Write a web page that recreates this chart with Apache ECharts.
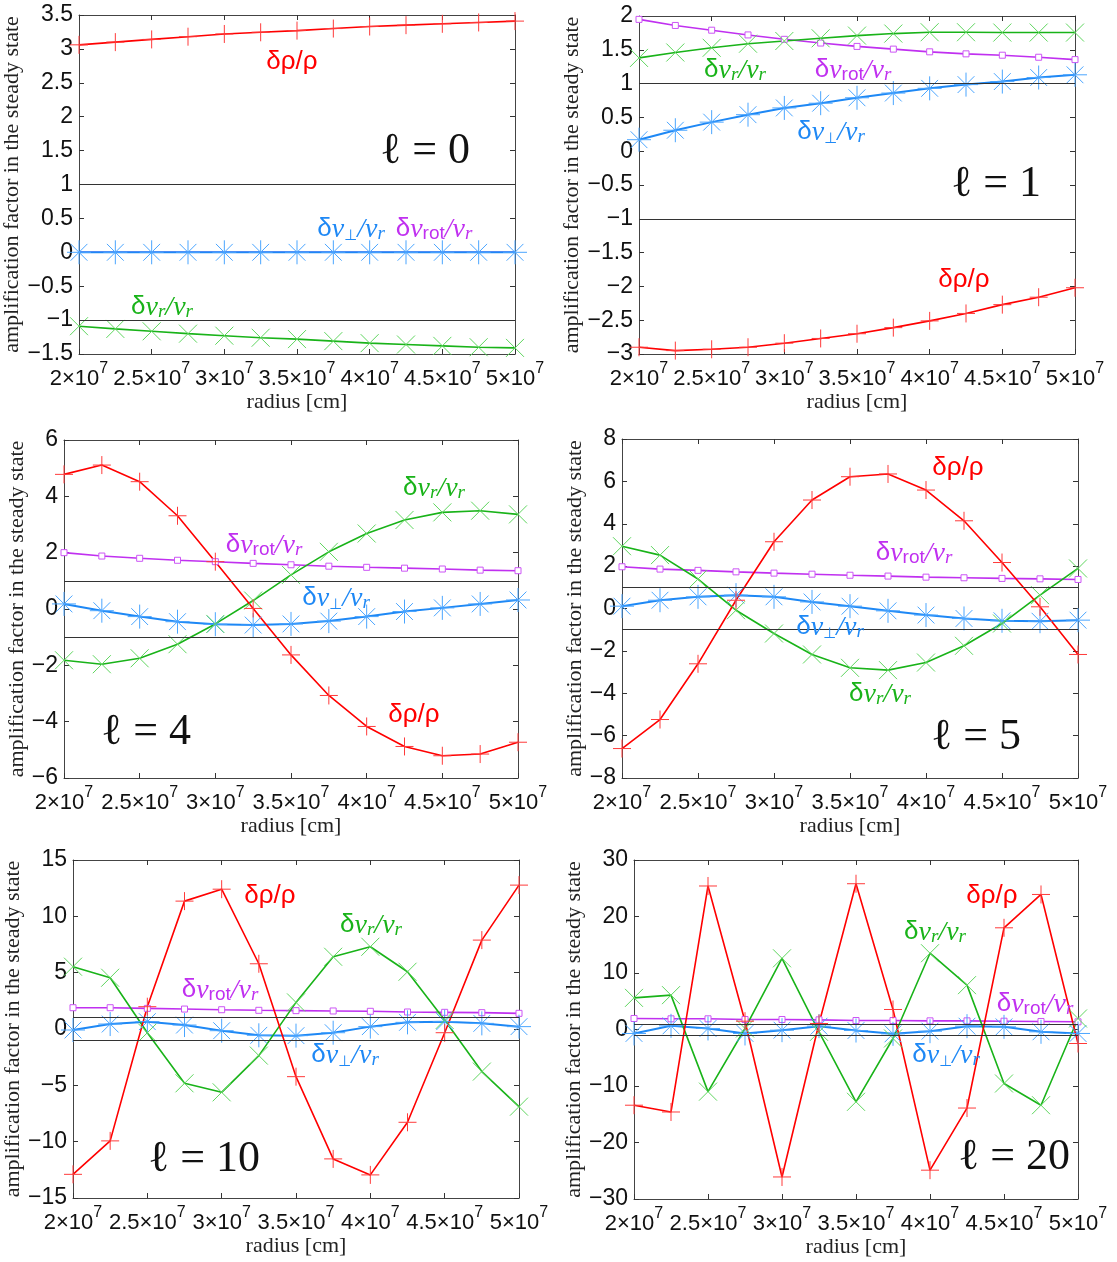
<!DOCTYPE html>
<html>
<head>
<meta charset="utf-8">
<script src="https://cdn.jsdelivr.net/npm/echarts@6/dist/echarts.min.js"></script>
<style>
  html, body { margin: 0; padding: 0; background: #fff; }
  #chart { width: 1117px; height: 1262px; }
</style>
</head>
<body>
<div id="chart"></div>
<script>
// radius [cm] of the sampled points
var radius = [2.0e7, 2.25e7, 2.5e7, 2.75e7, 3.0e7, 3.25e7, 3.5e7, 3.75e7, 4.0e7, 4.25e7, 4.5e7, 4.75e7, 5.0e7];

// l = 0
var rho0   = [3.06, 3.10, 3.14, 3.18, 3.22, 3.245, 3.27, 3.30, 3.33, 3.35, 3.37, 3.39, 3.41];
var vr0    = [-1.09, -1.13, -1.165, -1.20, -1.23, -1.26, -1.28, -1.31, -1.34, -1.36, -1.38, -1.40, -1.41];
var vperp0 = [0, 0, 0, 0, 0, 0, 0, 0, 0, 0, 0, 0, 0];
var vrot0  = [0, 0, 0, 0, 0, 0, 0, 0, 0, 0, 0, 0, 0];
// l = 1
var rho1   = [-2.90, -2.95, -2.93, -2.90, -2.84, -2.77, -2.70, -2.61, -2.51, -2.40, -2.27, -2.16, -2.02];
var vr1    = [1.38, 1.46, 1.53, 1.59, 1.63, 1.67, 1.71, 1.74, 1.76, 1.76, 1.755, 1.755, 1.755];
var vperp1 = [0.17, 0.31, 0.43, 0.54, 0.64, 0.71, 0.79, 0.86, 0.93, 0.985, 1.03, 1.09, 1.13];
var vrot1  = [1.95, 1.86, 1.79, 1.72, 1.655, 1.60, 1.55, 1.51, 1.47, 1.44, 1.42, 1.39, 1.355];
// l = 4
var rho4   = [4.78, 5.11, 4.52, 3.31, 1.68, 0.02, -1.63, -3.07, -4.17, -4.88, -5.21, -5.15, -4.73];
var vr4    = [-1.82, -1.96, -1.75, -1.25, -0.53, 0.30, 1.21, 2.03, 2.68, 3.16, 3.43, 3.49, 3.36];
var vperp4 = [0.18, -0.06, -0.27, -0.45, -0.54, -0.57, -0.53, -0.43, -0.27, -0.09, 0.04, 0.18, 0.32];
var vrot4  = [2.0, 1.88, 1.80, 1.73, 1.68, 1.62, 1.57, 1.52, 1.48, 1.45, 1.42, 1.38, 1.36];
// l = 5
var rho5   = [-6.61, -5.24, -2.61, 0.39, 3.15, 5.12, 6.22, 6.35, 5.59, 4.14, 2.17, 0.08, -2.17];
var vr5    = [2.94, 2.52, 1.39, -0.08, -1.18, -2.17, -2.80, -2.91, -2.55, -1.76, -0.71, 0.63, 1.89];
var vperp5 = [0.11, 0.39, 0.55, 0.63, 0.55, 0.31, 0.11, -0.11, -0.31, -0.47, -0.58, -0.60, -0.55];
var vrot5  = [1.97, 1.86, 1.80, 1.73, 1.67, 1.62, 1.57, 1.53, 1.48, 1.45, 1.42, 1.40, 1.37];
// l = 10
var rho10   = [-12.9, -9.93, 1.98, 11.35, 12.41, 5.79, -4.23, -11.53, -12.95, -8.28, -0.33, 7.89, 12.77];
var vr10    = [5.53, 4.55, -0.33, -4.82, -5.62, -2.36, 2.36, 6.41, 7.30, 5.08, 0.80, -3.78, -6.89];
var vperp10 = [-0.09, 0.44, 0.65, 0.35, -0.15, -0.56, -0.59, -0.33, 0.21, 0.59, 0.65, 0.50, 0.21];
var vrot10  = [1.89, 1.89, 1.83, 1.77, 1.71, 1.66, 1.63, 1.60, 1.57, 1.51, 1.48, 1.45, 1.39];
// l = 20
var rho20   = [-13.4, -14.6, 25.4, 1.47, -26.1, 1.06, 25.8, 3.54, -24.9, -13.9, 18.0, 23.9, -2.48];
var vr20    = [5.6, 6.08, -11.0, 0.18, 12.6, -0.41, -12.8, -1.59, 13.5, 7.85, -9.56, -13.4, 1.95];
var vperp20 = [-0.7, 0.65, 0.18, -0.7, -0.12, 0.59, -0.18, -0.77, -0.3, 0.59, 0.47, -0.41, -0.7];
var vrot20  = [1.95, 1.89, 1.89, 1.77, 1.77, 1.71, 1.59, 1.59, 1.53, 1.53, 1.47, 1.42, 1.36];

var ells = [0, 1, 4, 5, 10, 20];
var yRanges = [[-1.5, 3.5, 0.5], [-3, 2, 0.5], [-6, 6, 2], [-8, 8, 2], [-15, 15, 5], [-30, 30, 10]];
var refLevels = [1, -1];

var panels = [
  {rho: rho0,  vr: vr0,  vperp: vperp0,  vrot: vrot0},
  {rho: rho1,  vr: vr1,  vperp: vperp1,  vrot: vrot1},
  {rho: rho4,  vr: vr4,  vperp: vperp4,  vrot: vrot4},
  {rho: rho5,  vr: vr5,  vperp: vperp5,  vrot: vrot5},
  {rho: rho10, vr: vr10, vperp: vperp10, vrot: vrot10},
  {rho: rho20, vr: vr20, vperp: vperp20, vrot: vrot20}
];

// layout (px)
var grids = [
  {left: 79,  top: 15,  width: 436, height: 339, nameGap: 46},
  {left: 639, top: 16,  width: 436, height: 338, nameGap: 49},
  {left: 64,  top: 440, width: 454, height: 338, nameGap: 31},
  {left: 622, top: 439, width: 456, height: 339, nameGap: 33},
  {left: 73,  top: 860, width: 446, height: 338, nameGap: 41},
  {left: 634, top: 860, width: 444, height: 339, nameGap: 45}
];

// label anchors (px): [rho, vr, vperp, vrot, ell]
var labelPos = [
  [[292, 62],  [162, 307],  [351, 229],  [434, 229],  [425, 151]],
  [[964, 280], [735, 70],   [831, 132],  [853, 70],   [996, 184]],
  [[414, 715], [434, 488],  [336, 598],  [264, 545],  [146, 732]],
  [[958, 468], [880, 694],  [830, 627],  [914, 553],  [976, 737]],
  [[270, 896], [371, 925],  [345, 1055], [220, 990],  [204, 1159]],
  [[992, 896], [935, 932],  [946, 1055], [1035, 1004],[1014, 1157]]
];

var C = {
  rho:   {line: '#ff0000', mark: '#ff3a3a'},
  vr:    {line: '#19b319', mark: '#5fd65f'},
  vperp: {line: '#1e88f5', mark: '#4aa5ff'},
  vrot:  {line: '#c030f0', mark: '#cc55f5'}
};

var SYM_PLUS  = 'path://M5,0L5,10M0,5L10,5';
var SYM_CROSS = 'path://M0,0L10,10M0,10L10,0';
var SYM_STAR  = 'path://M5,0L5,10M0,5L10,5M1.5,1.5L8.5,8.5M1.5,8.5L8.5,1.5';

function pts(arr) {
  return radius.map(function (r, i) { return [r, arr[i]]; });
}
function minus(v) { return String(v).replace('-', '\u2212'); }

var option = {
  animation: false,
  backgroundColor: '#fff',
  grid: [], xAxis: [], yAxis: [], series: [], graphic: []
};

grids.forEach(function (g, i) {
  option.grid.push({left: g.left, top: g.top, width: g.width, height: g.height, containLabel: false});
  var yr = yRanges[i];
  var common = {
    gridIndex: i, type: 'value', min: 2e7, max: 5e7, interval: 0.5e7,
    axisLine: {show: true, onZero: false, lineStyle: {color: '#444', width: 1}},
    axisTick: {show: true, inside: true, length: 5, lineStyle: {color: '#333'}},
    splitLine: {show: false}
  };
  option.xAxis.push(Object.assign({}, common, {
    position: 'bottom',
    name: 'radius [cm]', nameLocation: 'middle', nameGap: 34,
    nameTextStyle: {fontFamily: 'Liberation Serif', fontSize: 22, color: '#222'},
    axisLabel: {
      margin: 7, color: '#111',
      formatter: function (v) { return '{b|' + (v / 1e7) + '\u00d710}{s|7}'; },
      rich: {
        b: {fontSize: 22, fontFamily: 'Liberation Sans', color: '#111', lineHeight: 29, verticalAlign: 'bottom'},
        s: {fontSize: 16, fontFamily: 'Liberation Sans', color: '#111', lineHeight: 15, verticalAlign: 'top'}
      }
    }
  }));
  option.xAxis.push(Object.assign({}, common, {position: 'top', axisLabel: {show: false}}));

  var ycommon = {
    gridIndex: i, type: 'value', min: yr[0], max: yr[1], interval: yr[2],
    axisLine: {show: true, onZero: false, lineStyle: {color: '#444', width: 1}},
    axisTick: {show: true, inside: true, length: 5, lineStyle: {color: '#333'}},
    splitLine: {show: false}
  };
  option.yAxis.push(Object.assign({}, ycommon, {
    position: 'left',
    name: 'amplification factor in the steady state', nameLocation: 'middle', nameGap: g.nameGap,
    nameTextStyle: {fontFamily: 'Liberation Serif', fontSize: 22, color: '#222'},
    axisLabel: {margin: 6, fontSize: 23, fontFamily: 'Liberation Sans', color: '#111', formatter: minus}
  }));
  option.yAxis.push(Object.assign({}, ycommon, {position: 'right', axisLabel: {show: false}}));

  var p = panels[i];
  var base = {type: 'line', xAxisIndex: 2 * i, yAxisIndex: 2 * i, clip: false, silent: true,
              emphasis: {disabled: true}, showAllSymbol: true};

  option.series.push(Object.assign({}, base, {
    data: pts(p.vrot), symbol: i === 0 ? 'none' : 'rect', symbolSize: 6,
    lineStyle: {color: C.vrot.line, width: 1.6},
    itemStyle: {color: '#fff', borderColor: C.vrot.mark, borderWidth: 1},
    markLine: {
      silent: true, symbol: 'none', label: {show: false}, animation: false,
      lineStyle: {color: '#333', width: 1, type: 'solid'},
      data: refLevels.map(function (v) { return {yAxis: v}; })
    }
  }));
  option.series.push(Object.assign({}, base, {
    data: pts(p.vperp), symbol: SYM_STAR, symbolSize: 24,
    lineStyle: {color: C.vperp.line, width: 2},
    itemStyle: {color: 'transparent', borderColor: C.vperp.mark, borderWidth: 1}
  }));
  option.series.push(Object.assign({}, base, {
    data: pts(p.vr), symbol: SYM_CROSS, symbolSize: 18,
    lineStyle: {color: C.vr.line, width: 1.6},
    itemStyle: {color: 'transparent', borderColor: C.vr.mark, borderWidth: 1}
  }));
  option.series.push(Object.assign({}, base, {
    data: pts(p.rho), symbol: SYM_PLUS, symbolSize: 18,
    lineStyle: {color: C.rho.line, width: 1.6},
    itemStyle: {color: 'transparent', borderColor: C.rho.mark, borderWidth: 1}
  }));
});

// annotations
var rich = {
  d: {fontSize: 26, fontFamily: 'Liberation Sans'},
  v: {fontSize: 28, fontFamily: 'Liberation Serif', fontStyle: 'italic', lineHeight: 29, verticalAlign: 'bottom'},
  r: {fontSize: 19, fontFamily: 'Liberation Serif', fontStyle: 'italic', lineHeight: 23, verticalAlign: 'bottom'},
  o: {fontSize: 19, fontFamily: 'Liberation Sans', lineHeight: 23, verticalAlign: 'bottom'},
  p: {fontSize: 15, fontFamily: 'DejaVu Sans', lineHeight: 20, verticalAlign: 'bottom'}
};
var texts = {
  rho:   '{d|\u03b4\u03c1/\u03c1}',
  vr:    '{d|\u03b4}{v|v}{r|r}{v|/v}{r|r}',
  vperp: '{d|\u03b4}{v|v}{p|\u22a5}{v|/v}{r|r}',
  vrot:  '{d|\u03b4}{v|v}{o|rot}{v|/v}{r|r}'
};
labelPos.forEach(function (lp, i) {
  ['rho', 'vr', 'vperp', 'vrot'].forEach(function (k, j) {
    option.graphic.push({
      type: 'text', x: lp[j][0], y: lp[j][1], silent: true, z: 100,
      style: {text: texts[k], rich: rich, fill: C[k].line, align: 'center', verticalAlign: 'middle'}
    });
  });
  option.graphic.push({
    type: 'text', x: lp[4][0], y: lp[4][1], silent: true, z: 100,
    style: {text: '\u2113 = ' + ells[i], fontSize: 44, fontFamily: 'Liberation Serif', fill: '#111',
            align: 'center', verticalAlign: 'middle'}
  });
});

var chart = echarts.init(document.getElementById('chart'), null, {renderer: 'canvas'});
chart.setOption(option);
</script>
</body>
</html>
